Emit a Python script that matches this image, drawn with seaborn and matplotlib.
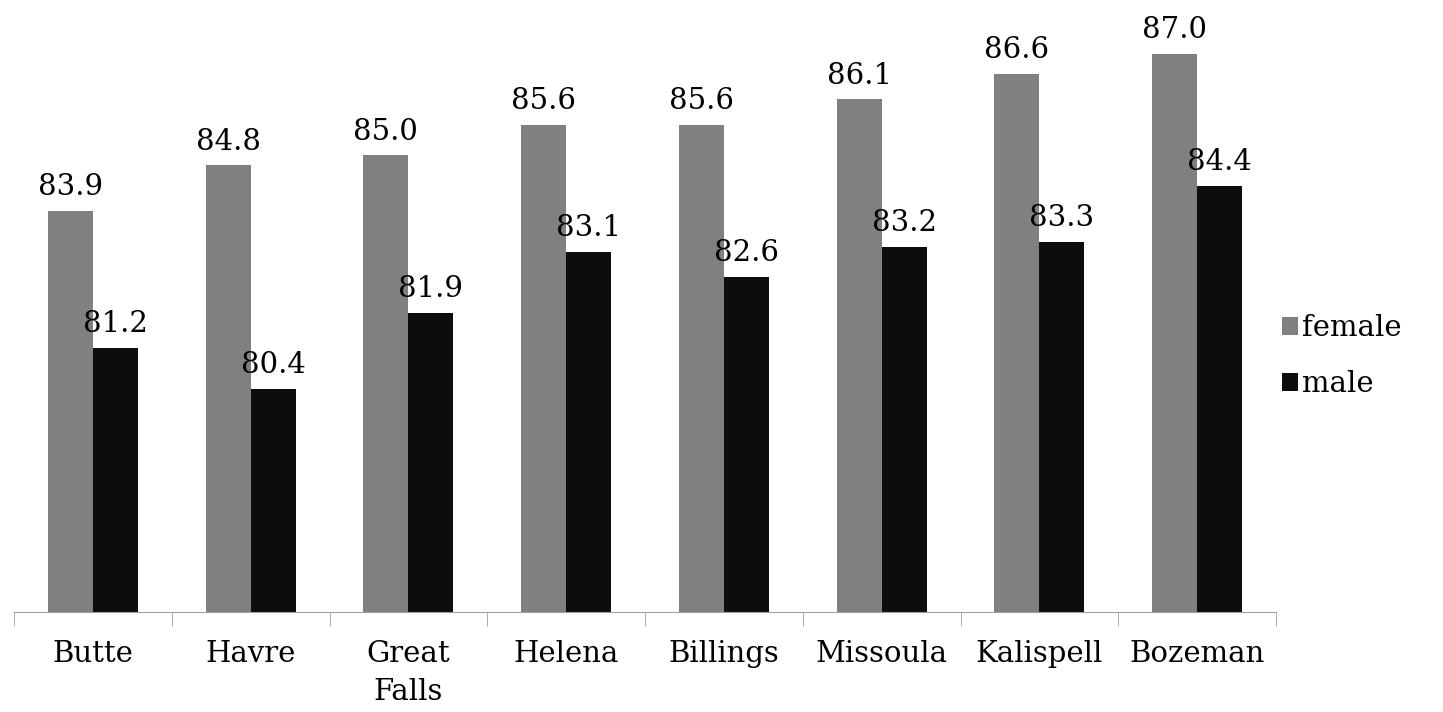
import numpy as np
import pandas as pd
import seaborn as sns
import matplotlib.pyplot as plt

cities = ["Butte", "Havre", "Great\nFalls", "Helena", "Billings", "Missoula", "Kalispell", "Bozeman"]
female = [83.9, 84.8, 85.0, 85.6, 85.6, 86.1, 86.6, 87.0]
male = [81.2, 80.4, 81.9, 83.1, 82.6, 83.2, 83.3, 84.4]

df = pd.DataFrame({
    "city": cities * 2,
    "value": female + male,
    "sex": ["female"] * len(cities) + ["male"] * len(cities),
})

sns.set_style("white")
plt.rcParams["font.family"] = ["DejaVu Serif"]
plt.rcParams["text.color"] = "black"
plt.rcParams["xtick.color"] = "black"

fig = plt.figure(figsize=(14.43, 7.12), dpi=100)
ax = fig.add_axes([14 / 1443, 100 / 712, 1262 / 1443, 609 / 712])

sns.barplot(data=df, x="city", y="value", hue="sex",
            palette={"female": "#808080", "male": "#0d0d0d"},
            width=0.57, saturation=1, linewidth=0, ax=ax)

ax.set_ylim(76, 88)
ax.set_xlim(-0.5, len(cities) - 0.5)

for cont in ax.containers:
    ax.bar_label(cont, fmt="%.1f", padding=7, fontsize=21, color="black")

for s in ["top", "right", "left"]:
    ax.spines[s].set_visible(False)
ax.spines["bottom"].set_color("#a0a0a0")
ax.set_yticks([])
ax.set_xticks(np.arange(-0.5, len(cities), 1), minor=True)
ax.tick_params(axis="x", which="major", length=0, labelsize=21, pad=20, labelcolor="black")
ax.tick_params(axis="x", which="minor", length=10, color="#a0a0a0", bottom=True)
for lbl in ax.get_xticklabels():
    lbl.set_linespacing(1.45)
ax.set_xlabel("")
ax.set_ylabel("")

leg = ax.legend(loc="center left", bbox_to_anchor=(0.984, 0.42),
                frameon=False, fontsize=21, handlelength=0.55, handleheight=0.55,
                handletextpad=0.15, labelspacing=0.95)
for t in leg.get_texts():
    t.set_color("black")

fig.savefig("out.png", dpi=100)
